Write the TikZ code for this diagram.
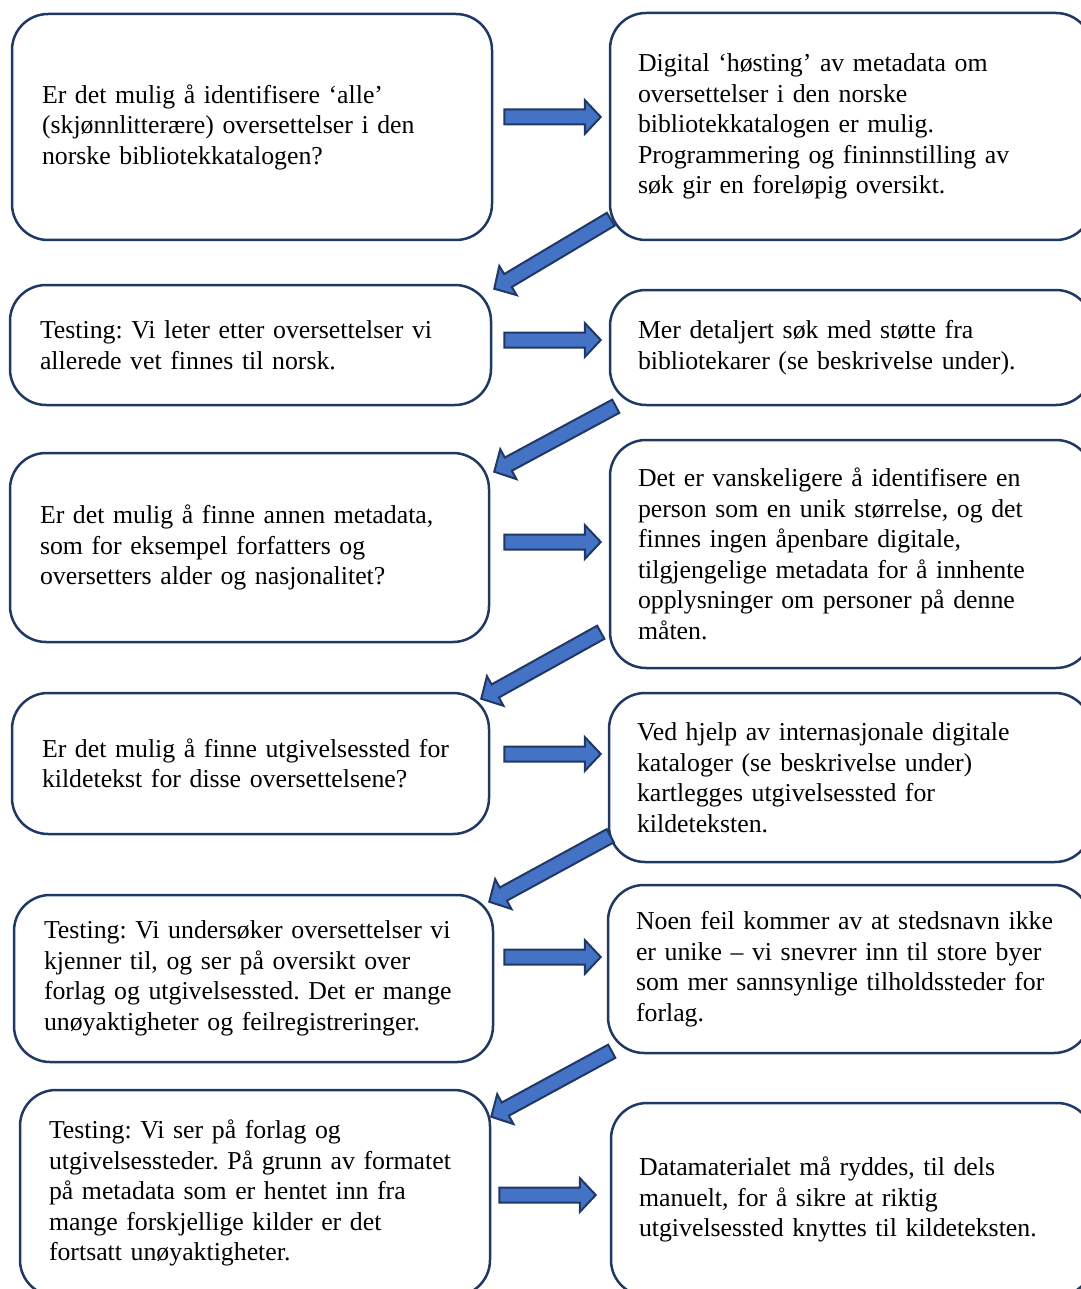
\documentclass[tikz,border=0pt]{standalone}
\usepackage{fontspec}
\setmainfont{Liberation Serif}
\usepackage{xcolor}
\usepackage{tikz}
\usetikzlibrary{calc}

\definecolor{boxline}{HTML}{1F3864}
\definecolor{arrowfill}{HTML}{4472C4}

% block arrow from #1 to #2 (tip at #2)
\newcommand\blockarrow[2]{%
  \coordinate (ba-s) at #1;
  \coordinate (ba-e) at #2;
  \coordinate (ba-h) at ($(ba-e)!16pt!(ba-s)$);
  \filldraw[bigarrow] ($(ba-s)!7.5pt!90:(ba-e)$) -- ($(ba-h)!7.5pt!-90:(ba-s)$)
    -- ($(ba-h)!17pt!-90:(ba-s)$) -- (ba-e) -- ($(ba-h)!17pt!90:(ba-s)$)
    -- ($(ba-h)!7.5pt!90:(ba-s)$) -- ($(ba-s)!7.5pt!-90:(ba-e)$) -- cycle;
}

\begin{document}
\frenchspacing
\begin{tikzpicture}[
  x=1pt,y=-1pt,
  stepbox/.style={draw=boxline, line width=2.5pt, rounded corners=36pt,
    align=left, inner xsep=30pt, inner ysep=0pt,
    font=\fontsize{25.8}{30.5}\selectfont},
  rightbox/.style={stepbox, inner xsep=28pt, text width=426pt},
  bigarrow/.style={draw=boxline, fill=arrowfill, line width=2pt, line join=miter}
]
\useasboundingbox (0,0) rectangle (1080,1289);

% left column
\node[stepbox, text width=420pt, minimum height=226pt] (q1) at (252,127)
  {Er det mulig å identifisere ‘alle’\\(skjønnlitterære) oversettelser i den\\norske bibliotekkatalogen?};
\node[stepbox, text width=421pt, minimum height=120pt] (q2) at (250.5,345)
  {Testing: Vi leter etter oversettelser vi\\allerede vet finnes til norsk.};
\node[stepbox, text width=419pt, minimum height=189pt] (q3) at (249.5,547.5)
  {Er det mulig å finne annen metadata,\\som for eksempel forfatters og\\oversetters alder og nasjonalitet?};
\node[stepbox, text width=417pt, minimum height=141pt] (q4) at (250.5,763.5)
  {Er det mulig å finne utgivelsessted for\\kildetekst for disse oversettelsene?};
\node[stepbox, text width=419pt, minimum height=167pt] (q5) at (253.5,978.5)
  {Testing: Vi undersøker oversettelser vi\\kjenner til, og ser på oversikt over\\forlag og utgivelsessted. Det er mange\\unøyaktigheter og feilregistreringer.};
\node[stepbox, inner xsep=29pt, text width=412pt, minimum height=206pt] (q6) at (255,1193)
  {Testing: Vi ser på forlag og\\utgivelsessteder. På grunn av formatet\\på metadata som er hentet inn fra\\mange forskjellige kilder er det\\fortsatt unøyaktigheter.};

% right column
\node[rightbox, minimum height=227pt] (a1) at (851,126.5)
  {Digital ‘høsting’ av metadata om\\oversettelser i den norske\\bibliotekkatalogen er mulig.\\Programmering og fininnstilling av\\søk gir en foreløpig oversikt.};
\node[rightbox, minimum height=115pt] (a2) at (851,347.5)
  {Mer detaljert søk med støtte fra\\bibliotekarer (se beskrivelse under).};
\node[rightbox, minimum height=228pt] (a3) at (851,554)
  {Det er vanskeligere å identifisere en\\person som en unik størrelse, og det\\finnes ingen åpenbare digitale,\\tilgjengelige metadata for å innhente\\opplysninger om personer på denne\\måten.};
\node[rightbox, minimum height=169pt] (a4) at (850,777.5)
  {Ved hjelp av internasjonale digitale\\kataloger (se beskrivelse under)\\kartlegges utgivelsessted for\\kildeteksten.};
\node[rightbox, minimum height=168pt] (a5) at (849,969)
  {Noen feil kommer av at stedsnavn ikke\\er unike – vi snevrer inn til store byer\\som mer sannsynlige tilholdssteder for\\forlag.};
\node[rightbox, minimum height=193pt] (a6) at (852,1199.5)
  {Datamaterialet må ryddes, til dels\\manuelt, for å sikre at riktig\\utgivelsessted knyttes til kildeteksten.};

% arrows across
\blockarrow{([shift={(11,-10)}]q1.east)}{([shift={(-8,-9.5)}]a1.west)}
\blockarrow{([shift={(12,-5)}]q2.east)}{([shift={(-8,-7.5)}]a2.west)}
\blockarrow{([shift={(14,-5.5)}]q3.east)}{([shift={(-8,-12)}]a3.west)}
\blockarrow{([shift={(14,-9.5)}]q4.east)}{([shift={(-7,-23.5)}]a4.west)}
\blockarrow{([shift={(10,-21.5)}]q5.east)}{([shift={(-6,-12)}]a5.west)}
\blockarrow{([shift={(8,2)}]q6.east)}{([shift={(-14,-4.5)}]a6.west)}

% arrows back down
\blockarrow{([shift={(2,-22)}]a1.south west)}{([shift={(2,5)}]q2.north east)}
\blockarrow{([shift={(7,0)}]a2.south west)}{([shift={(4,20)}]q3.north east)}
\blockarrow{([shift={(-8,-37)}]a3.south west)}{([shift={(-9,7)}]q4.north east)}
\blockarrow{([shift={(2.5,-27.5)}]a4.south west)}{([shift={(-5,8)}]q5.north east)}
\blockarrow{([shift={(5,-3)}]a5.south west)}{([shift={(0,28)}]q6.north east)}
\end{tikzpicture}
\end{document}
